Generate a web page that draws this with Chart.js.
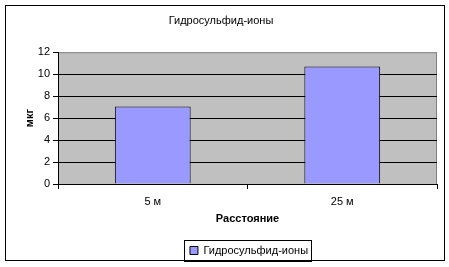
<!DOCTYPE html>
<html lang="ru">
  <head>
    <meta charset="UTF-8" />
    <title>Гидросульфид-ионы</title>
    <script src="https://cdn.jsdelivr.net/npm/chart.js"></script>
    <style>
      body {
        margin: 0;
        padding: 0;
        background: #fff;
      }
      canvas {
        display: block;
      }
    </style>
  </head>
  <body>
    <canvas id="chart" width="449" height="267"></canvas>

    <script>
      // data
      const categories = ["5 м", "25 м"];
      const values = [7.05, 10.7];
      const yTicks = [0, 2, 4, 6, 8, 10, 12];
      const seriesName = "Гидросульфид-ионы";

      Chart.defaults.font.family = "'Liberation Sans', Arial, sans-serif";
      Chart.defaults.font.size = 11;
      Chart.defaults.color = "#000";

      // grey plot area, outer frame, box round the legend
      const excelLook = {
        id: "excelLook",
        afterLayout(chart) {
          // legend sits a bit right of centre in the original
          chart.legend.left += 28;
          chart.legend.right += 28;
        },
        beforeDraw(chart) {
          const { ctx, chartArea: a } = chart;
          ctx.save();
          ctx.fillStyle = "#fff";
          ctx.fillRect(0, 0, chart.width, chart.height);
          ctx.strokeStyle = "#000";
          ctx.lineWidth = 1;
          ctx.strokeRect(5.5, 5.5, 439, 255);
          ctx.fillStyle = "#c0c0c0";
          ctx.fillRect(a.left, a.top, a.right - a.left, a.bottom - a.top);
          ctx.strokeStyle = "#808080";
          ctx.strokeRect(a.left + 0.5, a.top + 0.5, a.right - a.left - 1, a.bottom - a.top);
          ctx.restore();
        },
        afterDraw(chart) {
          const hb = chart.legend.legendHitBoxes[0];
          if (!hb) return;
          const { ctx } = chart;
          ctx.save();
          ctx.strokeStyle = "#000";
          ctx.lineWidth = 1;
          const x = Math.round(hb.left) - 5.5;
          const y = Math.round(hb.top + hb.height / 2) - 10.5;
          ctx.strokeRect(x, y, Math.round(hb.width) + 9, 21);
          ctx.restore();
        },
      };

      new Chart(document.getElementById("chart"), {
        type: "bar",
        data: {
          labels: categories,
          datasets: [
            {
              label: seriesName,
              data: values,
              backgroundColor: "#9999ff",
              borderColor: "#000",
              borderWidth: 1,
              barPercentage: 0.4,
              categoryPercentage: 1,
            },
          ],
        },
        options: {
          responsive: false,
          animation: false,
          layout: { padding: { left: 5, right: 12, top: 0, bottom: 1 } },
          plugins: {
            title: {
              display: true,
              text: seriesName,
              font: { size: 11, weight: "normal" },
              padding: { top: 14, bottom: 25 },
            },
            legend: {
              position: "bottom",
              labels: {
                boxWidth: 8,
                boxHeight: 8,
                padding: 6,
                color: "#000",
                generateLabels(chart) {
                  return [
                    {
                      text: seriesName,
                      fillStyle: "#9999ff",
                      strokeStyle: "#000",
                      lineWidth: 1,
                      datasetIndex: 0,
                    },
                  ];
                },
              },
            },
            tooltip: { enabled: false },
          },
          scales: {
            x: {
              offset: true,
              grid: {
                offset: true,
                drawOnChartArea: false,
                drawTicks: true,
                tickLength: 5,
                tickColor: "#000",
              },
              border: { color: "#000" },
              ticks: { padding: 6, color: "#000" },
              title: {
                display: true,
                text: "Расстояние",
                font: { weight: "bold", size: 11 },
                padding: { top: 4, bottom: 13 },
              },
              afterFit(scale) {
                scale.height = 55;
              },
            },
            y: {
              min: 0,
              max: 12,
              afterBuildTicks(scale) {
                scale.ticks = yTicks.map((v) => ({ value: v }));
              },
              grid: {
                color: (c) => (c.tick && c.tick.value === 12 ? "rgba(0,0,0,0)" : "#000"),
                tickColor: "#000",
                tickLength: 5,
              },
              border: { color: "#000" },
              ticks: { padding: 3, color: "#000" },
              title: {
                display: true,
                text: "мкг",
                font: { weight: "bold", size: 11 },
                padding: { top: 18, bottom: 4 },
              },
              afterFit(scale) {
                scale.width = 53;
              },
            },
          },
        },
        plugins: [excelLook],
      });
    </script>
  </body>
</html>
